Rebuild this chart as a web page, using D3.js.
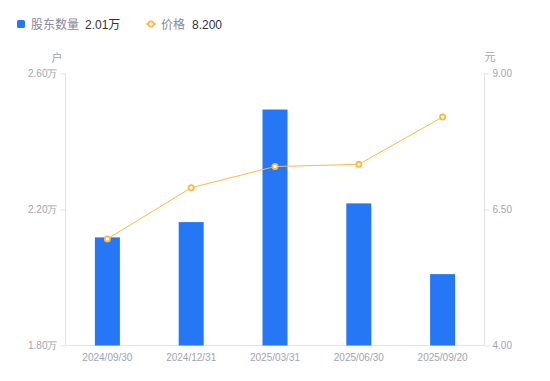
<!DOCTYPE html>
<html><head><meta charset="utf-8">
<script src="https://cdn.jsdelivr.net/npm/d3@7/dist/d3.min.js"></script>
<style>
html,body{margin:0;padding:0;background:#fff;}
svg{display:block;font-family:"Liberation Sans","Noto Sans CJK SC",sans-serif;}
</style></head>
<body><svg id="c" width="550" height="381"></svg>
<script>
const categories = ["2024/09/30","2024/12/31","2025/03/31","2025/06/30","2025/09/20"];
const holders = [2.118, 2.163, 2.494, 2.218, 2.01];   // 万户
const prices = [5.96, 6.90, 7.29, 7.33, 8.20];         // 元
const leftTicks = [1.80, 2.20, 2.60];
const rightTicks = [4.00, 6.50, 9.00];
const legendHolders = "2.01万";
const legendPrice = "8.200";

const svg = d3.select("#c");
const m = {l:65.5, r:484.5, t:73.5, b:345.5};
const x = d3.scaleBand().domain(categories).range([m.l, m.r]);
const yL = d3.scaleLinear().domain([1.80, 2.60]).range([m.b, m.t]);
const yR = d3.scaleLinear().domain([4.00, 9.00]).range([m.b, m.t]);
const axisCol = "#e3e3e8", labelCol = "#a0a3b2";

// axes
const gL = svg.append("g").attr("transform",`translate(${m.l},0)`)
  .call(d3.axisLeft(yL).tickValues(leftTicks).tickSize(5).tickPadding(3).tickFormat(d=>d.toFixed(2)+"万"));
const gR = svg.append("g").attr("transform",`translate(${m.r},0)`)
  .call(d3.axisRight(yR).tickValues(rightTicks).tickSize(5).tickPadding(3).tickFormat(d=>d.toFixed(2)));
const gB = svg.append("g").attr("transform",`translate(0,${m.b})`)
  .call(d3.axisBottom(x).tickSize(0).tickPadding(8));
[gL,gR,gB].forEach(g=>{
  g.select(".domain").attr("stroke",axisCol).attr("stroke-width",1);
  g.selectAll(".tick line").attr("stroke",axisCol);
  g.selectAll("text").attr("fill",labelCol).attr("font-size",10).attr("font-family",null);
});
gL.select(".domain").attr("d",`M0,${m.b}V${m.t}`);
gR.select(".domain").attr("d",`M0,${m.b}V${m.t}`);
gB.select(".domain").attr("d",`M${m.l},0H${m.r}`);

// unit labels
svg.append("text").attr("x",57).attr("y",61.5).attr("text-anchor","middle").attr("font-size",11).attr("fill",labelCol).text("户");
svg.append("text").attr("x",490).attr("y",61).attr("text-anchor","middle").attr("font-size",11).attr("fill",labelCol).text("元");

// bars
const bw = 25;
svg.append("g").selectAll("rect").data(holders).join("rect")
  .attr("x",(d,i)=>x(categories[i])+x.bandwidth()/2-bw/2)
  .attr("y",d=>yL(d))
  .attr("width",bw)
  .attr("height",d=>m.b-yL(d))
  .attr("fill","#2577f5");

// line
const lineCol = "#fdb844";
const pts = prices.map((p,i)=>[x(categories[i])+x.bandwidth()/2, yR(p)]);
svg.append("path").attr("d",d3.line()(pts)).attr("fill","none").attr("stroke",lineCol).attr("stroke-width",1);
svg.append("g").selectAll("circle").data(pts).join("circle")
  .attr("cx",d=>d[0]).attr("cy",d=>d[1]).attr("r",2.6)
  .attr("fill","#fff").attr("stroke",lineCol).attr("stroke-width",1.8);

// legend
const lg = svg.append("g");
lg.append("rect").attr("x",17).attr("y",20).attr("width",8).attr("height",8).attr("rx",1.5).attr("fill","#2577f5");
lg.append("text").attr("x",31).attr("y",28.5).attr("font-size",12).attr("fill","#86889a").text("股东数量");
lg.append("text").attr("x",85).attr("y",28.5).attr("font-size",12).attr("fill","#333").text(legendHolders);
lg.append("line").attr("x1",146).attr("x2",156).attr("y1",24).attr("y2",24).attr("stroke",lineCol).attr("stroke-width",1.5);
lg.append("circle").attr("cx",151).attr("cy",24).attr("r",2.6).attr("fill","#fff").attr("stroke",lineCol).attr("stroke-width",1.8);
lg.append("text").attr("x",161).attr("y",28.5).attr("font-size",12).attr("fill","#86889a").text("价格");
lg.append("text").attr("x",192).attr("y",28.5).attr("font-size",12).attr("fill","#333").text(legendPrice);
</script></body></html>
